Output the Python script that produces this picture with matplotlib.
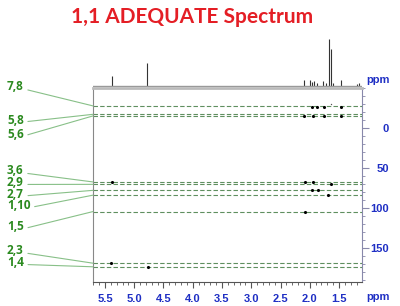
import matplotlib
matplotlib.use('Agg')
import matplotlib.pyplot as plt
from matplotlib.ticker import MultipleLocator, FixedLocator


# 1D proton trace on top (ppm, relative height)

peak_ppm = [5.375, 4.777, 2.098, 1.996, 1.96, 1.927, 1.88, 1.77, 1.72,
            1.676, 1.637, 1.608, 1.47, 1.197, 1.158]
peak_int = [21, 48, 12, 12, 8, 10, 6, 10, 6, 100, 79, 6, 12, 4, 6]

# correlations drawn as dashed lines (13C ppm) and their labels

corr_labels = ['7,8', '5,8', '5,6', '3,6', '2,9', '2,7', '1,10', '1,5', '2,3', '1,4']
corr_c13 = [-27, -16.5, -14.5, 68, 71, 78.5, 84.5, 105, 169.5, 174]

# cross peaks (1H ppm, 13C ppm)

cross_h = [1.97, 1.88, 1.76, 1.47, 2.10, 1.95, 1.76, 1.47,
           5.38, 2.08, 1.95, 1.64, 1.97, 1.86, 1.68, 2.08, 5.39, 4.77]
cross_c = [-26, -26, -26, -26, -14.5, -14.5, -14.5, -14.5,
           68, 68, 68, 71, 78.5, 78.5, 84.5, 105, 169.5, 174]

# label positions on the left (pixels from top)
label_y_px = [87, 120, 134, 171, 182.5, 194, 205.5, 226.7, 250.8, 262.5]

W, H = 400, 306
blue = '#1f2fc4'
green_txt = '#2b8a1f'

fig = plt.figure(figsize=(W / 100, H / 100), dpi=100)
fig.patch.set_facecolor('white')

ax = fig.add_axes([93 / W, (H - 282) / H, (362 - 93) / W, (282 - 87.5) / H])
spec = fig.add_axes([93 / W, (H - 87) / H, (362 - 93) / W, 57 / H])

xlim = (5.705, 1.107)

# top spectrum
spec.vlines(peak_ppm, 0, peak_int, color='#333333', lw=0.8)
spec.axhline(0, color='#999999', lw=1)
spec.set_xlim(*xlim)
spec.set_ylim(-3.2, 119)
spec.axis('off')

# dashed correlation lines
for c in corr_c13:
    ax.axhline(c, color='#5f8f5f', lw=0.8, dashes=(4, 2))

ax.scatter(cross_h, cross_c, s=5, color='black', zorder=3, linewidths=0)
ax.scatter([1.64], [-30], s=1, color='#555555', zorder=3, linewidths=0)

ax.set_xlim(*xlim)
ax.set_ylim(193, -50)

ax.xaxis.set_major_locator(MultipleLocator(0.5))
ax.xaxis.set_minor_locator(MultipleLocator(0.1))
ax.yaxis.set_major_locator(FixedLocator([0, 50, 100, 150]))
ax.yaxis.set_minor_locator(MultipleLocator(10))
ax.yaxis.tick_right()

ax.tick_params(axis='x', which='major', direction='out', length=4, width=0.8,
               color='#555555', labelsize=8, labelcolor=blue, pad=5)
ax.tick_params(axis='x', which='minor', direction='out', length=2, width=0.6, color='#555555')
ax.tick_params(axis='y', which='major', direction='out', length=5, width=0.8,
               color='#8888aa', labelsize=8, labelcolor=blue, pad=14.5)
ax.tick_params(axis='y', which='minor', direction='out', length=2, width=0.6, color='#8888aa')

for lbl in ax.get_xticklabels() + ax.get_yticklabels():
    lbl.set_fontweight('bold')
    lbl.set_family('Liberation Sans')
for lbl in ax.get_yticklabels():
    lbl.set_ha('right')

ax.spines['top'].set_color('#bbbbbb')
ax.spines['top'].set_linewidth(2)
ax.spines['left'].set_color('#888888')
ax.spines['right'].set_color('#8888aa')
ax.spines['bottom'].set_color('#555555')

# labels with connectors to the dashed lines
for name, c, ypx in zip(corr_labels, corr_c13, label_y_px):
    ax.annotate(name, xy=(0, c), xycoords=ax.get_yaxis_transform(),
                xytext=(7, H - ypx), textcoords='figure pixels',
                ha='left', va='center', fontsize=8.5, fontweight='bold',
                family='Open Sans', color=green_txt,
                arrowprops=dict(arrowstyle='-', color='#88c088', lw=0.8,
                                relpos=(1, 0.35), shrinkA=1, shrinkB=0))

fig.text(192 / W, 1 - 17 / H, '1,1 ADEQUATE Spectrum', ha='center', va='center',
         fontsize=15, fontweight='bold', family='Lato', color='#e41e25')
fig.text(378 / W, 1 - 80 / H, 'ppm', ha='center', va='center',
         fontsize=8, fontweight='bold', family='Liberation Sans', color=blue)
fig.text(378 / W, 1 - 297 / H, 'ppm', ha='center', va='center',
         fontsize=8, fontweight='bold', family='Liberation Sans', color=blue)

fig.savefig('out.png', dpi=100)
